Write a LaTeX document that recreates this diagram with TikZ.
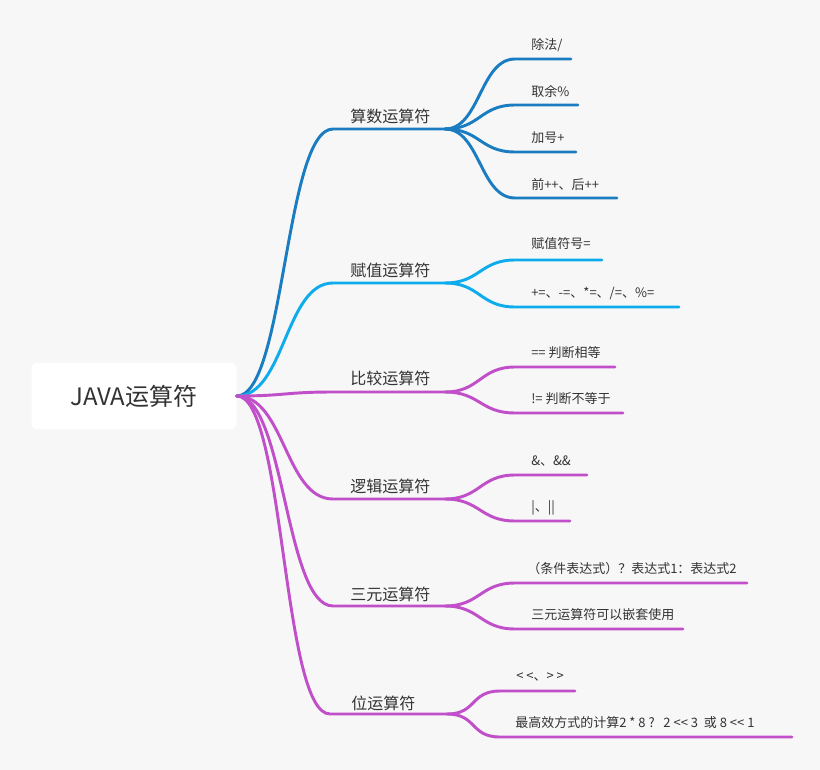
\documentclass[tikz,border=0pt]{standalone}
\usepackage{fontspec}
\newfontfamily\cjk{Noto Sans CJK SC}[Ligatures=TeXOff]
\definecolor{bggray}{HTML}{F7F7F7}
\definecolor{textgray}{HTML}{333333}
\definecolor{arithblue}{HTML}{1A7CC1}
\definecolor{assignblue}{HTML}{0EACEC}
\definecolor{opviolet}{HTML}{C04FC9}

\begin{document}
\begin{tikzpicture}[x=0.75pt, y=-0.75pt]
        % Map style definitions
        \tikzset{
            branch/.style={line width=2.2pt, line cap=round},
            rootbox/.style={fill=white, rounded corners=4.5pt, minimum width=153.75pt,
                minimum height=49.5pt, text=textgray, font=\cjk\fontsize{18}{22}\selectfont},
            toplabel/.style={anchor=west, inner sep=0pt, text=textgray,
                font=\cjk\fontsize{12}{14}\selectfont},
            leaflabel/.style={anchor=west, inner sep=0pt, text=textgray,
                font=\cjk\fontsize{9.75}{12}\selectfont}
        }

        % background and root
        \fill[bggray] (0,0) rectangle (820,770);
        \node[rootbox] (root) at (134,396) {JAVA运算符};

        % ==========================================
        % ARITHMETIC (blue)
        % ==========================================
        \coordinate (arithL) at (333,129);
        \coordinate (arithR) at (445,129);
        \node[toplabel] (arith) at (350,116) {算数运算符};
        \draw[branch, arithblue] (root.east) .. controls +(48,0) and +(-48,0) .. (arithL) -- (arithR);

        \coordinate (divL) at (515,59);   \coordinate (divR) at (571,59);
        \coordinate (modL) at (515,105);  \coordinate (modR) at (578,105);
        \coordinate (addL) at (515,152);  \coordinate (addR) at (576,152);
        \coordinate (incL) at (515,198);  \coordinate (incR) at (617,198);
        \node[leaflabel] (div) at (531,45) {除法/};
        \node[leaflabel] (mod) at (531,92) {取余\%};
        \node[leaflabel] (add) at (531,138) {加号+};
        \node[leaflabel] (inc) at (531,185) {前++、后++};
        \draw[branch, arithblue] (arithR) .. controls +(35,0) and +(-35,0) .. (divL) -- (divR);
        \draw[branch, arithblue] (arithR) .. controls +(35,0) and +(-35,0) .. (modL) -- (modR);
        \draw[branch, arithblue] (arithR) .. controls +(35,0) and +(-35,0) .. (addL) -- (addR);
        \draw[branch, arithblue] (arithR) .. controls +(35,0) and +(-35,0) .. (incL) -- (incR);

        % ==========================================
        % ASSIGNMENT (light blue)
        % ==========================================
        \coordinate (assignL) at (333,283);
        \coordinate (assignR) at (445,283);
        \node[toplabel] (assign) at (350,270) {赋值运算符};
        \draw[branch, assignblue] (root.east) .. controls +(48,0) and +(-48,0) .. (assignL) -- (assignR);

        \coordinate (eqL) at (515,260);   \coordinate (eqR) at (602,260);
        \coordinate (cmpdL) at (515,307); \coordinate (cmpdR) at (679,307);
        \node[leaflabel] (eq) at (531,244) {赋值符号=};
        \node[leaflabel] (cmpd) at (531,293) {+=、-=、*=、/=、\%=};
        \draw[branch, assignblue] (assignR) .. controls +(35,0) and +(-35,0) .. (eqL) -- (eqR);
        \draw[branch, assignblue] (assignR) .. controls +(35,0) and +(-35,0) .. (cmpdL) -- (cmpdR);

        % ==========================================
        % COMPARISON (violet)
        % ==========================================
        \coordinate (compL) at (333,392);
        \coordinate (compR) at (445,392);
        \node[toplabel] (comp) at (350,378) {比较运算符};
        \draw[branch, opviolet] (root.east) .. controls +(48,0) and +(-48,0) .. (compL) -- (compR);

        \coordinate (sameL) at (515,367); \coordinate (sameR) at (615,367);
        \coordinate (diffL) at (515,413); \coordinate (diffR) at (623,413);
        \node[leaflabel] (same) at (531,353) {== 判断相等};
        \node[leaflabel] (diff) at (531,399) {!= 判断不等于};
        \draw[branch, opviolet] (compR) .. controls +(35,0) and +(-35,0) .. (sameL) -- (sameR);
        \draw[branch, opviolet] (compR) .. controls +(35,0) and +(-35,0) .. (diffL) -- (diffR);

        % ==========================================
        % LOGICAL (violet)
        % ==========================================
        \coordinate (logicL) at (333,499);
        \coordinate (logicR) at (445,499);
        \node[toplabel] (logic) at (350,486) {逻辑运算符};
        \draw[branch, opviolet] (root.east) .. controls +(48,0) and +(-48,0) .. (logicL) -- (logicR);

        \coordinate (andL) at (515,475);  \coordinate (andR) at (587,475);
        \coordinate (orL) at (515,521);   \coordinate (orR) at (570,521);
        \node[leaflabel] (and) at (531,461) {\&、\&\&};
        \node[leaflabel] (or) at (531,508) {|、||};
        \draw[branch, opviolet] (logicR) .. controls +(35,0) and +(-35,0) .. (andL) -- (andR);
        \draw[branch, opviolet] (logicR) .. controls +(35,0) and +(-35,0) .. (orL) -- (orR);

        % ==========================================
        % TERNARY (violet)
        % ==========================================
        \coordinate (ternL) at (333,606);
        \coordinate (ternR) at (445,606);
        \node[toplabel] (tern) at (350,594) {三元运算符};
        \draw[branch, opviolet] (root.east) .. controls +(48,0) and +(-48,0) .. (ternL) -- (ternR);

        \coordinate (condL) at (515,583); \coordinate (condR) at (747,583);
        \coordinate (nestL) at (515,629); \coordinate (nestR) at (683,629);
        \node[leaflabel] (cond) at (527,569) {（条件表达式）？表达式1：表达式2};
        \node[leaflabel] (nest) at (531,615) {三元运算符可以嵌套使用};
        \draw[branch, opviolet] (ternR) .. controls +(35,0) and +(-35,0) .. (condL) -- (condR);
        \draw[branch, opviolet] (ternR) .. controls +(35,0) and +(-35,0) .. (nestL) -- (nestR);

        % ==========================================
        % BITWISE (violet)
        % ==========================================
        \coordinate (bitL) at (330,714);
        \coordinate (bitR) at (447,714);
        \node[toplabel] (bit) at (351,703) {位运算符};
        \draw[branch, opviolet] (root.east) .. controls +(48,0) and +(-48,0) .. (bitL) -- (bitR);

        \coordinate (shiftL) at (500,691); \coordinate (shiftR) at (575,691);
        \coordinate (fastL) at (500,737);  \coordinate (fastR) at (792,737);
        \node[leaflabel] (shift) at (516,677) {< <、> >};
        \node[leaflabel] (fast) at (515,723) {最高效方式的计算2 * 8 ?~~~2 << 3~~或 8 << 1};
        \draw[branch, opviolet] (bitR) .. controls +(30,0) and +(-30,0) .. (shiftL) -- (shiftR);
        \draw[branch, opviolet] (bitR) .. controls +(30,0) and +(-30,0) .. (fastL) -- (fastR);

\end{tikzpicture}
\end{document}
